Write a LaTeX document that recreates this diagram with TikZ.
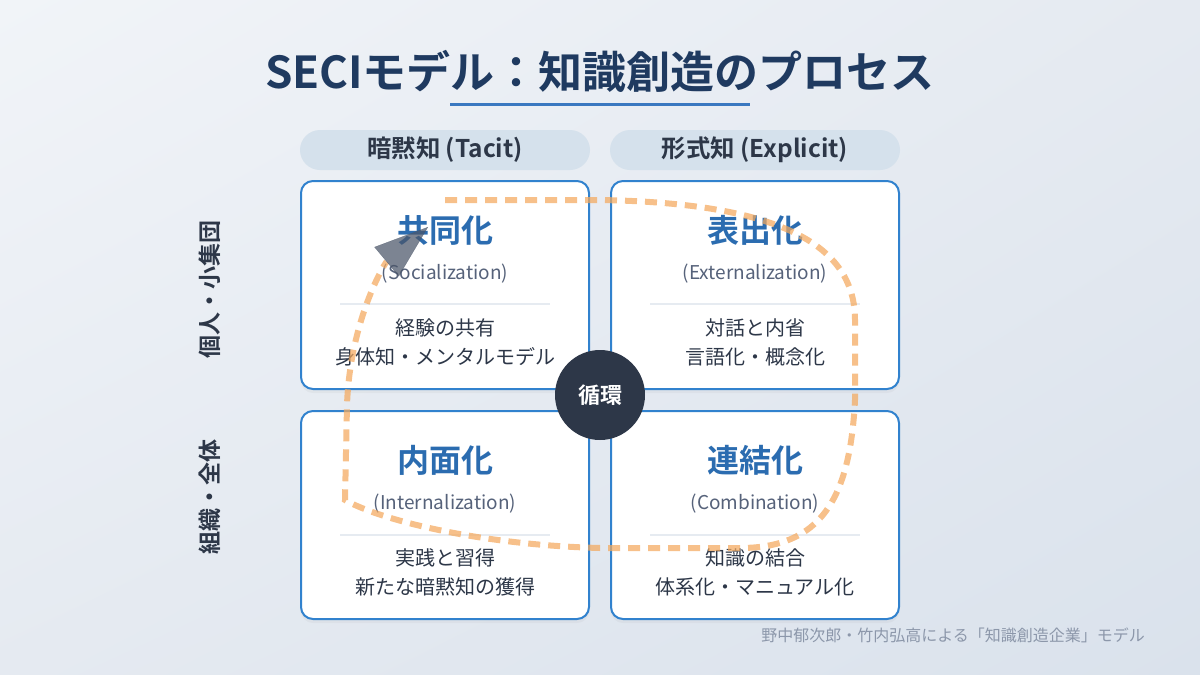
\documentclass[tikz,border=0pt]{standalone}
\usepackage{fontspec}
\setmainfont{Noto Sans CJK JP}[BoldFont={Noto Sans CJK JP Bold}]
\usetikzlibrary{arrows.meta,shadows,shadings}

\definecolor{bgtl}{HTML}{F1F4F8}
\definecolor{bgmid}{HTML}{E5EAF1}
\definecolor{bgbr}{HTML}{DAE2EC}
\definecolor{navy}{HTML}{1F3A60}
\definecolor{lineblue}{HTML}{3A78C0}
\definecolor{pillfill}{HTML}{D5E1EC}
\definecolor{ink}{HTML}{2D3748}
\definecolor{quadblue}{HTML}{3182CE}
\definecolor{headblue}{HTML}{2B6CB0}
\definecolor{subgray}{HTML}{56627A}
\definecolor{sepgray}{HTML}{E6EBF1}
\definecolor{footgray}{HTML}{8C97AA}
\definecolor{loopor}{HTML}{F4A95E}
\definecolor{tipgray}{HTML}{4A5568}

\begin{document}
\begin{tikzpicture}[
    x=0.5pt, y=-0.5pt,
    titletext/.style={font=\bfseries\fontsize{22}{26}\selectfont, text=navy},
    pill/.style={rounded corners=10pt, fill=pillfill, minimum width=145pt, minimum height=20pt,
        font=\bfseries\fontsize{12.2}{14}\selectfont, text=ink},
    quad/.style={draw=quadblue, line width=1pt, fill=white, rounded corners=6pt,
        minimum width=144pt, minimum height=104pt,
        drop shadow={opacity=0.07, shadow xshift=0pt, shadow yshift=-2pt}},
    phase/.style={font=\bfseries\fontsize{16}{18}\selectfont, text=headblue},
    engl/.style={font=\fontsize{9.5}{11}\selectfont, text=subgray},
    body/.style={font=\fontsize{10}{14.5}\selectfont, text=ink, align=center},
    sepline/.style={draw=sepgray, line width=0.8pt},
    side/.style={font=\bfseries\fontsize{11.5}{13}\selectfont, text=ink, rotate=90},
    hub/.style={circle, fill=ink, minimum size=45pt, inner sep=0pt,
        font=\bfseries\fontsize{11}{13}\selectfont, text=white},
    loopline/.style={draw=loopor, line width=3pt, opacity=0.72, dash pattern=on 6pt off 4pt},
    >={Triangle[length=27pt, width=19pt, line width=0.1pt, color=tipgray]}
]
    % 背景
    \useasboundingbox (0,0) rectangle (1200,675);
    \shade[upper left=bgtl, upper right=bgmid, lower left=bgmid, lower right=bgbr]
        (0,0) rectangle (1200,675);

    % 标题
    \node[titletext] (title) at (600,71) {SECIモデル：知識創造のプロセス};
    \draw[lineblue, line width=1.5pt] (450,104) -- (750,104);

    % 列标题
    \node[pill] (tacit) at (445,150) {暗黙知 (Tacit)};
    \node[pill] (explicit) at (755,150) {形式知 (Explicit)};

    % 行标题
    \node[side] (indiv) at (210,289) {個人・小集団};
    \node[side] (org) at (210,497) {組織・全体};

    % 四个象限
    \node[quad] (soc) at (445,285) {};
    \node[quad] (ext) at (755,285) {};
    \node[quad] (int) at (445,515) {};
    \node[quad] (comb) at (755,515) {};

    % 1. 共同化
    \node[phase] (socname) at (445,230) {共同化};
    \node[engl] (soceng) at (445,274) {(Socialization)};
    \draw[sepline] (340,304) -- (550,304);
    \node[body] (socdesc) at (445,342) {経験の共有\\身体知・メンタルモデル};

    % 2. 表出化
    \node[phase] (extname) at (755,230) {表出化};
    \node[engl] (exteng) at (755,274) {(Externalization)};
    \draw[sepline] (650,304) -- (860,304);
    \node[body] (extdesc) at (755,342) {対話と内省\\言語化・概念化};

    % 3. 内面化
    \node[phase] (intname) at (445,460) {内面化};
    \node[engl] (inteng) at (445,504) {(Internalization)};
    \draw[sepline] (340,535) -- (550,535);
    \node[body] (intdesc) at (445,572) {実践と習得\\新たな暗黙知の獲得};

    % 4. 連結化
    \node[phase] (combname) at (755,460) {連結化};
    \node[engl] (combeng) at (755,504) {(Combination)};
    \draw[sepline] (650,535) -- (860,535);
    \node[body] (combdesc) at (755,572) {知識の結合\\体系化・マニュアル化};

    % 中心圆
    \node[hub] (cycle) at (600,395) {循環};

    % 螺旋循环线
    \coordinate (loopstart) at (445,200);
    \coordinate (looptip) at (428,227);
    \draw[loopline, ->] (loopstart) -- (600,200)
        .. controls (780,203) and (855,245) .. (855,320) -- (855,400)
        .. controls (850,500) and (820,548) .. (740,548) -- (600,548)
        .. controls (480,545) and (380,520) .. (345,500) -- (347,405)
        .. controls (350,320) and (385,263) .. (looptip);

    % 出处
    \node[anchor=east, font=\fontsize{8}{10}\selectfont, text=footgray] (credit) at (1152,635)
        {野中郁次郎・竹内弘高による「知識創造企業」モデル};

\end{tikzpicture}
\end{document}
